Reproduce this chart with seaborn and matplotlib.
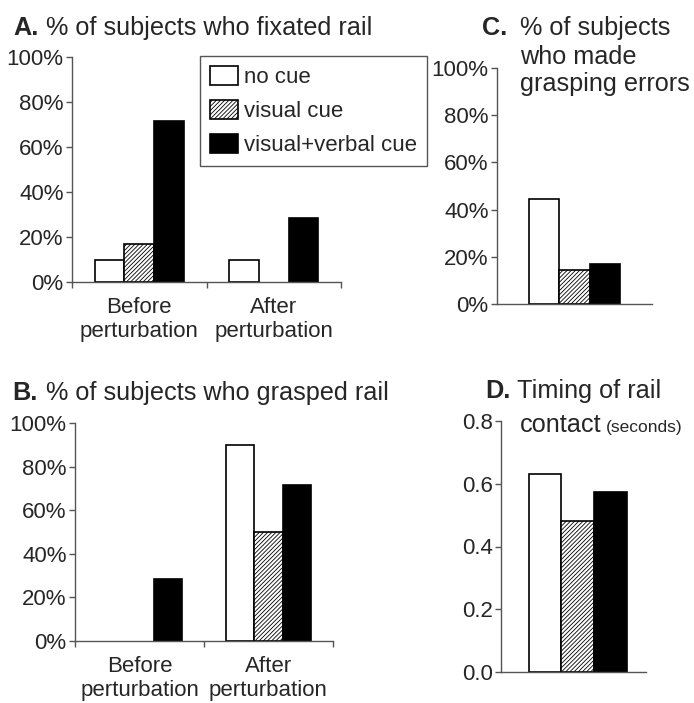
"""
Four-panel bar figure: rail fixation / grasping by cue condition.
Saves out.png (694 x 703 px).
"""

import matplotlib
matplotlib.use("Agg")
import matplotlib.pyplot as plt
import pandas as pd
import seaborn as sns

# ---------------------------------------------------------------------------
# Data
# ---------------------------------------------------------------------------
CUES   = ["no cue", "visual cue", "visual+verbal cue"]
PHASES = ["Before\nperturbation", "After\nperturbation"]

fixated_before = [10.0, 16.7, 71.4]
fixated_after  = [10.0, 0.0, 28.6]

grasped_before = [0.0, 0.0, 28.6]
grasped_after  = [90.0, 50.0, 71.4]

grasp_errors   = [44.4, 14.3, 17.0]
contact_time   = [0.63, 0.48, 0.575]

PCT_TICKS  = [0, 20, 40, 60, 80, 100]
PCT_LABELS = ["0%", "20%", "40%", "60%", "80%", "100%"]
SEC_TICKS  = [0.0, 0.2, 0.4, 0.6, 0.8]
SEC_LABELS = ["0.0", "0.2", "0.4", "0.6", "0.8"]

# ---------------------------------------------------------------------------
# Style
# ---------------------------------------------------------------------------
sns.set_style("ticks")
plt.rcParams["font.family"] = ["Liberation Sans", "DejaVu Sans"]
plt.rcParams["hatch.color"] = "#555555"
plt.rcParams["hatch.linewidth"] = 0.6

W, H = 694, 703
TITLE_FS = 18.2
TICK_FS  = 16
GRAY     = "#555555"
HATCH    = "////////"
PALETTE  = dict(zip(CUES, ["white", "white", "black"]))


def long_frame(groups, series):
    rows = []
    for g, vals in zip(groups, series):
        for cue, v in zip(CUES, vals):
            rows.append({"phase": g, "cue": cue, "value": v})
    return pd.DataFrame(rows)


def px_axes(left, right, top, bottom):
    return fig.add_axes([left / W, 1 - bottom / H, (right - left) / W, (bottom - top) / H])


def ftext(x, y, s, **kw):
    kw.setdefault("fontsize", TITLE_FS)
    fig.text(x / W, 1 - y / H, s, va="baseline", ha="left", **kw)


def draw_bars(ax, df, width):
    sns.barplot(
        data=df, x="phase", y="value", hue="cue", hue_order=CUES,
        palette=PALETTE, saturation=1, edgecolor="black", linewidth=1.2,
        width=width, gap=0, errorbar=None, legend=False, ax=ax,
    )
    for patch in ax.containers[1].patches:
        patch.set_hatch(HATCH)
    # empty bars leave no outline on the axis
    for cont in ax.containers:
        for patch in cont.patches:
            if patch.get_height() == 0:
                patch.set_visible(False)
    sns.despine(ax=ax)
    for side in ("left", "bottom"):
        ax.spines[side].set_color(GRAY)
        ax.spines[side].set_linewidth(1.0)
    ax.tick_params(axis="y", length=4, width=1, color=GRAY, labelsize=TICK_FS, pad=2)
    ax.set_xlabel("")
    ax.set_ylabel("")


def pct_axis(ax):
    ax.set_ylim(0, 100)
    ax.set_yticks(PCT_TICKS)
    ax.set_yticklabels(PCT_LABELS)


def phase_axis(ax):
    ax.set_xlim(-0.5, 1.5)
    ax.set_xticks([0, 1])
    ax.set_xticklabels(PHASES)
    ax.set_xticks([-0.5, 0.5, 1.5], minor=True)
    ax.tick_params(axis="x", which="major", length=0, labelsize=TICK_FS, pad=11)
    ax.tick_params(axis="x", which="minor", length=4, width=1, color=GRAY)


fig = plt.figure(figsize=(W / 100, H / 100), dpi=100)

# ---------------------------------------------------------------------------
# A. fixated rail
# ---------------------------------------------------------------------------
ax_a = px_axes(72, 341, 57, 282)
draw_bars(ax_a, long_frame(PHASES, [fixated_before, fixated_after]), 0.66)
pct_axis(ax_a)
phase_axis(ax_a)
leg_handles = [cont.patches[0] for cont in ax_a.containers]
leg = ax_a.legend(
    leg_handles, CUES,
    loc="upper left", bbox_to_anchor=(200 / W, 1 - 56 / H), bbox_transform=fig.transFigure,
    fontsize=TICK_FS, frameon=True, fancybox=False, edgecolor=GRAY, framealpha=1,
    handlelength=1.25, handleheight=0.95, handletextpad=0.3,
    labelspacing=0.52, borderpad=0.45, borderaxespad=0,
)
leg.get_frame().set_linewidth(1.0)
# a zero-height bar was hidden above; keep its legend swatch visible
for handle in leg.legend_handles:
    handle.set_visible(True)
ftext(13, 35, "A.", fontweight="bold")
ftext(46, 35, "% of subjects who fixated rail")

# ---------------------------------------------------------------------------
# B. grasped rail
# ---------------------------------------------------------------------------
ax_b = px_axes(75, 333, 423, 641)
draw_bars(ax_b, long_frame(PHASES, [grasped_before, grasped_after]), 0.66)
pct_axis(ax_b)
phase_axis(ax_b)
ftext(12, 400, "B.", fontweight="bold")
ftext(46, 400, "% of subjects who grasped rail")

# ---------------------------------------------------------------------------
# C. grasping errors
# ---------------------------------------------------------------------------
ax_c = px_axes(497, 652, 68, 304)
draw_bars(ax_c, long_frame(["all"], [grasp_errors]), 0.59)
pct_axis(ax_c)
ax_c.set_xlim(-0.5, 0.5)
ax_c.set_xticks([])
ftext(482, 35, "C.", fontweight="bold")
ftext(520, 35, "% of subjects")
ftext(520, 64, "who made")
ftext(520, 91, "grasping errors")

# ---------------------------------------------------------------------------
# D. timing of rail contact
# ---------------------------------------------------------------------------
ax_d = px_axes(501, 646, 421, 672)
draw_bars(ax_d, long_frame(["all"], [contact_time]), 0.68)
ax_d.set_ylim(0, 0.8)
ax_d.set_yticks(SEC_TICKS)
ax_d.set_yticklabels(SEC_LABELS)
ax_d.set_xlim(-0.53, 0.47)
ax_d.set_xticks([])
ftext(485, 398, "D.", fontweight="bold")
ftext(517, 398, "Timing of rail")
ftext(520, 432, "contact")
ftext(606, 432, "(seconds)", fontsize=12.5)

fig.savefig("out.png", dpi=100)
plt.close(fig)
